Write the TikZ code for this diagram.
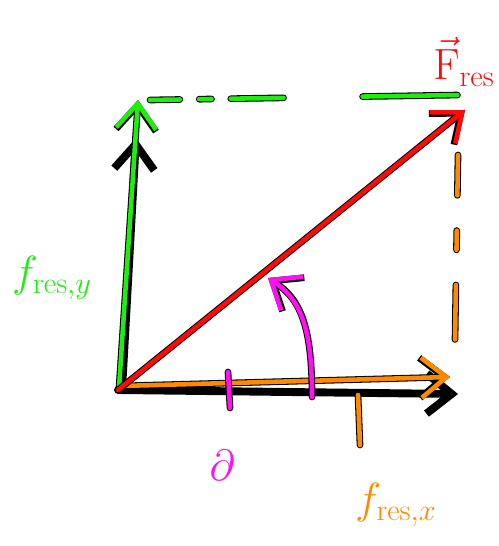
\documentclass[tikz,border=0pt]{standalone}
\usepackage{amsmath}
\usepackage{xcolor}
\usetikzlibrary{arrows.meta}
\definecolor{SketchGreen}{HTML}{1EEE0E}
\definecolor{SketchRed}{HTML}{FF0A0A}
\definecolor{SketchOrange}{HTML}{FF8A00}
\definecolor{SketchPink}{HTML}{FF10F0}

\begin{document}
\begin{tikzpicture}[x=0.02cm,y=-0.02cm,
  pen/.style={draw=#1,line width=2.6pt,line cap=round,line join=round,
    preaction={draw=black,line width=3.8pt,line cap=round}},
  dashpen/.style 2 args={draw=#1,line width=2.6pt,line cap=round,dash pattern=#2,
    preaction={draw=black,line width=3.8pt,line cap=round,dash pattern=#2}},
  barb/.style={-{Straight Barb[length=5mm,width=8mm]}},
  lbl/.style={font=\fontsize{26}{30}\selectfont}]
\useasboundingbox (0,0) rectangle (498,546);
% axes, sketched in black under the coloured strokes
\coordinate (O) at (118,390);
\coordinate (xend) at (458,394);
\coordinate (yend) at (136,138);
\draw[barb,draw=black,line width=4.5pt,line cap=round] (O) -- (xend);
\draw[barb,draw=black,line width=4.5pt,line cap=round] (122,390) -- (yend);

% components and resultant
\coordinate (fx) at (450,377);
\coordinate (fy) at (138,100);
\coordinate (Fres) at (465,110);
\draw[pen=SketchOrange,barb] (120,386) -- (fx);
\draw[pen=SketchGreen,barb] (119,388) -- (fy);
\draw[pen=SketchRed,barb] (O) -- (Fres);

% completing the parallelogram
\coordinate (gstart) at (150,100);
\coordinate (gend) at (460,95);
\coordinate (ostart) at (458,155);
\coordinate (oend) at (455,340);
\draw[dashpen={SketchGreen}{on 17pt off 11pt on 7pt off 11pt on 30pt off 45pt on 54pt off 10pt}]
  (gstart) -- (gend);
\draw[dashpen={SketchOrange}{on 23pt off 20pt on 11pt off 20pt on 31pt off 10pt}]
  (ostart) -- (oend);

% angle
\coordinate (arcstart) at (312,397);
\coordinate (arcend) at (268,278);
\draw[pen=SketchPink,barb] (arcstart) .. controls (312,330) and (302,300) .. (arcend);
\draw[pen=SketchPink] (228,372) -- (230,408);
\draw[pen=SketchOrange] (358,395) -- (360,445);

% labels
\node[lbl,text=SketchRed] (lFres) at (464,62) {$\vec{\mathrm{F}}_{\mathrm{res}}$};
\node[lbl,text=SketchGreen] (lfy) at (52,278) {$f_{\mathrm{res},y}$};
\node[lbl,text=SketchPink] (lang) at (222,465) {$\partial$};
\node[lbl,text=SketchOrange] (lfx) at (396,505) {$f_{\mathrm{res},x}$};
\end{tikzpicture}
\end{document}
